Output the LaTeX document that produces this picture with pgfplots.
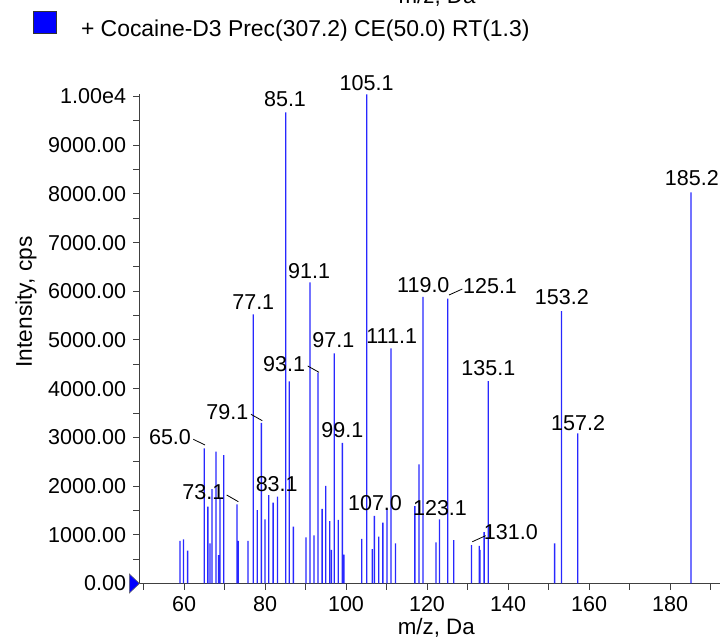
\documentclass[border=0pt]{standalone}
\usepackage{fontspec}
\setmainfont{Liberation Sans}
\usepackage{pgfplots}
\pgfplotsset{compat=1.18}
\pgfplotstableread{
mz I
59.0 873
59.9 907
60.9 674
65.0 2776
65.9 1578
66.4 825
66.9 1940
67.9 2707
68.5 585
68.9 1749
69.8 2638
73.1 1626
73.4 873
75.8 873
77.1 5528
78.1 1509
79.1 3300
80.0 1318
80.9 1817
82.0 1660
83.1 1783
85.1 9676
86.0 4150
87.0 1167
90.1 948
91.1 6185
92.1 986
93.1 4329
94.1 1530
95.0 2005
96.0 1283
96.4 688
97.1 4727
98.1 1304
99.1 2885
99.5 595
103.9 914
105.1 10045
106.5 708
107.0 1386
108.1 962
109.1 1249
110.1 1536
111.1 4830
112.2 825
117.0 1591
118.0 2447
119.0 5883
122.2 846
123.1 1318
125.1 5848
126.6 893
131.0 790
132.9 770
133.1 688
134.1 1057
135.1 4158
151.5 825
153.2 5595
157.2 3084
185.2 8033
}\peaks
\begin{document}
\begin{tikzpicture}[lbl/.style={font=\fontsize{10.8}{13}\selectfont, inner sep=0pt, anchor=center}]
\path[use as bounding box] (0,0) rectangle (360bp,320.5bp);
\begin{axis}[
  at={(69.725bp,28.75bp)}, anchor=south west,
  scale only axis, width=290.2bp, height=244.96bp,
  xmin=49, xmax=192.3, ymin=0, ymax=10060,
  axis x line=bottom, axis y line=left,
  axis line style={-, black!75, line width=0.6bp},
  xtick={60,80,...,180}, minor xtick={50,70,...,190},
  xticklabels={60,80,100,120,140,160,180},
  ytick={0,1000,...,10000}, minor ytick={500,1500,...,9500},
  yticklabels={0.00,1000.00,2000.00,3000.00,4000.00,5000.00,6000.00,7000.00,8000.00,9000.00,1.00e4},
  scaled y ticks=false, scaled x ticks=false,
  tick align=outside,
  major tick length=3.2bp, minor tick length=3.2bp,
  tick style={black!75, line width=0.5bp},
  ticklabel style={font=\fontsize{10.8}{13}\selectfont},
  /pgf/number format/assume math mode=true,
  clip=false,
]
\addplot[ybar, bar width=0.65bp, fill={rgb,255:red,40;green,40;blue,255}, draw=none, no markers] table[x=mz, y=I] {\peaks};
\node[lbl] at (axis cs:105.1,10271) {105.1};
\node[lbl] at (axis cs:84.94,9943) {85.1};
\node[lbl] at (axis cs:90.9,6423) {91.1};
\node[lbl] at (axis cs:77.1,5774) {77.1};
\node[lbl] at (axis cs:84.7,4501) {93.1};
\node[lbl] at (axis cs:70.69,3528) {79.1};
\node[lbl] at (axis cs:56.54,3014) {65.0};
\node[lbl] at (axis cs:64.77,1873) {73.1};
\node[lbl] at (axis cs:82.89,2037) {83.1};
\node[lbl] at (axis cs:96.86,5000) {97.1};
\node[lbl] at (axis cs:99.09,3152) {99.1};
\node[lbl] at (axis cs:111.28,5082) {111.1};
\node[lbl] at (axis cs:119.09,6129) {119.0};
\node[lbl] at (axis cs:135.56,6109) {125.1};
\node[lbl] at (axis cs:135.14,4419) {135.1};
\node[lbl] at (axis cs:107.16,1647) {107.0};
\node[lbl] at (axis cs:123.21,1556) {123.1};
\node[lbl] at (axis cs:140.7,1051) {131.0};
\node[lbl] at (axis cs:153.3,5882) {153.2};
\node[lbl] at (axis cs:157.3,3300) {157.2};
\node[lbl] at (axis cs:185.4,8320) {185.2};
\draw[black, line width=0.4bp] (axis cs:90.54,4466) -- (axis cs:93.33,4337);
\draw[black, line width=0.4bp] (axis cs:76.54,3474) -- (axis cs:79.33,3343);
\draw[black, line width=0.4bp] (axis cs:62.30,2961) -- (axis cs:65.19,2844);
\draw[black, line width=0.4bp] (axis cs:70.54,1817) -- (axis cs:73.41,1680);
\draw[black, line width=0.4bp] (axis cs:125.43,5924) -- (axis cs:128.72,6047);
\draw[black, line width=0.4bp] (axis cs:131.19,858) -- (axis cs:134.49,982);
\end{axis}
\fill[blue, draw=black!60, line width=0.3bp] (69.725bp,28.75bp) -- (64.7bp,33.5bp) -- (64.7bp,24bp) -- cycle;
\node[font=\fontsize{11.2}{13}\selectfont, anchor=center] at (218.15bp,6.5bp) {m/z, Da};
\node[font=\fontsize{11.4}{13}\selectfont, anchor=center, rotate=90] at (13bp,169.5bp) {Intensity, cps};
\node[font=\fontsize{11.2}{13}\selectfont, anchor=base, inner sep=0pt] at (218.5bp,318.5bp) {m/z, Da};
\filldraw[fill=blue, draw=black!80, line width=0.4bp] (16.5bp,304bp) rectangle (28bp,314.75bp);
\node[font=\fontsize{11.5}{13}\selectfont, anchor=base west, inner sep=0pt] at (40.3bp,302bp) {+ Cocaine-D3 Prec(307.2) CE(50.0) RT(1.3)};
\end{tikzpicture}
\end{document}
